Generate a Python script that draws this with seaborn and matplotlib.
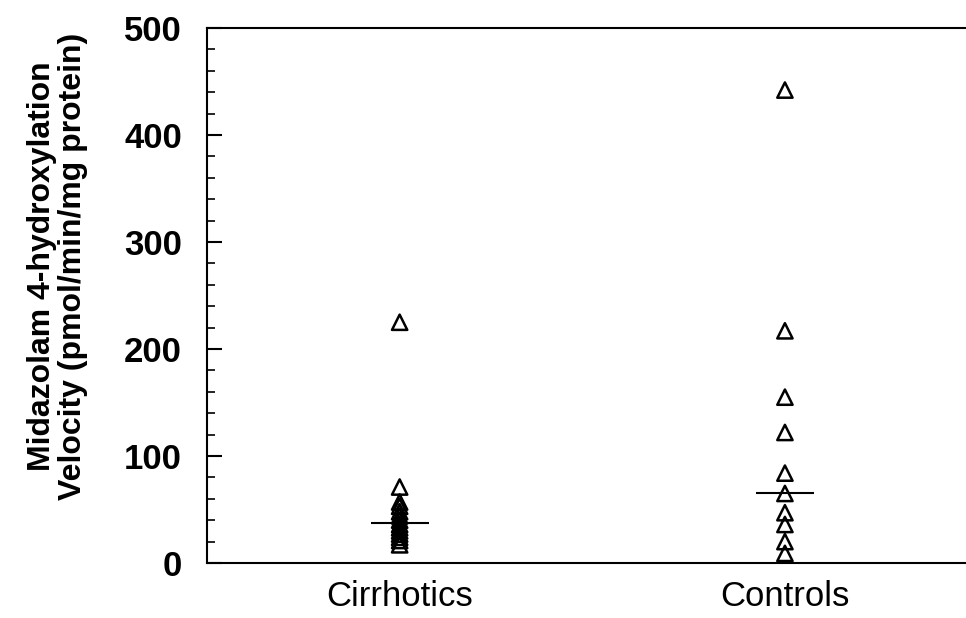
import matplotlib
matplotlib.use('Agg')
import matplotlib.pyplot as plt
from matplotlib.ticker import MultipleLocator
import seaborn as sns
import pandas as pd

groups = ['Cirrhotics', 'Controls']
cirrhotics = [225, 71, 57, 53, 48, 44, 40, 36, 33, 30, 27, 24, 21, 17]
controls = [442, 217, 155, 122, 84, 65, 47, 36, 20, 9]
medians = [37, 65]

df = pd.DataFrame({
    'group': [groups[0]] * len(cirrhotics) + [groups[1]] * len(controls),
    'velocity': cirrhotics + controls,
})

sns.set_style('white')
plt.rcParams['font.family'] = ['Liberation Sans', 'DejaVu Sans']
plt.rcParams['text.color'] = 'black'
plt.rcParams['xtick.color'] = 'black'
plt.rcParams['ytick.color'] = 'black'
plt.rcParams['axes.labelcolor'] = 'black'

fig = plt.figure(figsize=(9.66, 6.18), dpi=100)
ax = fig.add_axes([207 / 966, 55 / 618, 759 / 966, 535 / 618])

sns.stripplot(data=df, x='group', y='velocity', order=groups, jitter=False,
              marker='^', size=11, facecolors='none', edgecolor='black',
              linewidth=1.8, ax=ax)

# median bars
for i, m in enumerate(medians):
    ax.hlines(m, i - 0.075, i + 0.075, color='black', linewidth=1.5, zorder=4)

ax.set_xlim(-0.5, 1.47)
ax.set_ylim(0, 500)
ax.yaxis.set_major_locator(MultipleLocator(100))
ax.yaxis.set_minor_locator(MultipleLocator(20))
ax.tick_params(axis='y', which='major', direction='in', length=11, width=1.5,
               pad=18, labelsize=25, left=True)
ax.tick_params(axis='y', which='minor', direction='in', length=6, width=1.2, left=True)
ax.tick_params(axis='x', length=0, pad=12, labelsize=25)
for lab in ax.get_yticklabels():
    lab.set_fontweight('bold')

for side in ['left', 'bottom', 'top']:
    ax.spines[side].set_visible(True)
    ax.spines[side].set_color('black')
    ax.spines[side].set_linewidth(1.5)
ax.spines['right'].set_visible(False)

ax.set_xlabel('')
ax.set_ylabel('Midazolam 4-hydroxylation\nVelocity (pmol/min/mg protein)',
              fontsize=23, fontweight='bold', linespacing=1.05)
ax.yaxis.set_label_coords(-0.157, 0.555)

fig.savefig('out.png', dpi=100)
